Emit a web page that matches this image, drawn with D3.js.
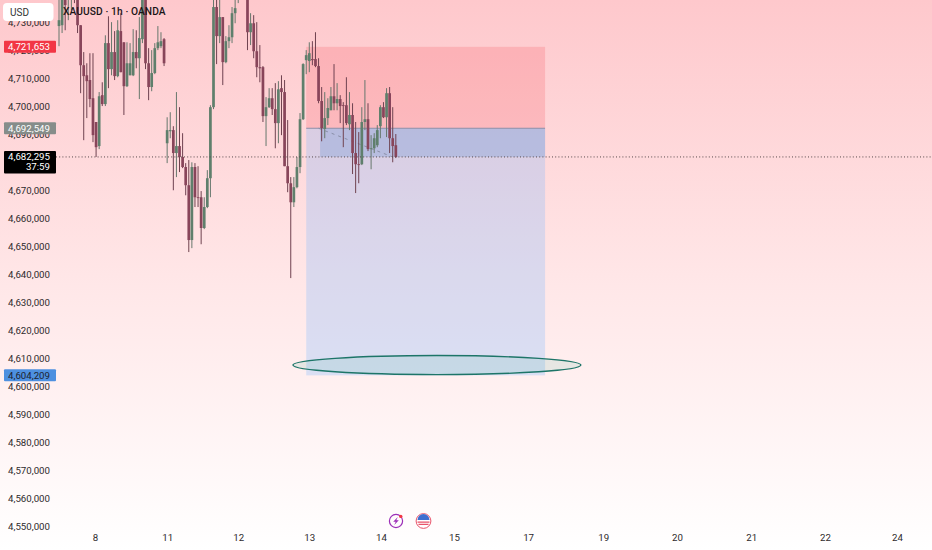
<!DOCTYPE html>
<html>
<head>
<meta charset="utf-8">
<script src="https://cdn.jsdelivr.net/npm/d3@7.9.0/dist/d3.min.js"></script>
<style>
  html, body { margin: 0; padding: 0; background: #fff; }
  svg { display: block; }
  text { font-family: Roboto, "Liberation Sans", sans-serif; }
</style>
</head>
<body>
<svg id="chart" width="932" height="550"></svg>
<script>
// hourly candles, prices in thousands (4710.0 shows as 4,710,000)
const opens = [4728.8,4729.1,4741.0,4738.8,4739.8,4741.6,4740.2,4729.1,4714.8,4711.2,4709.5,4703.0,4694.5,4685.9,4704.1,4700.9,4722.7,4713.4,4719.5,4710.9,4727.0,4723.0,4707.3,4711.2,4711.2,4719.5,4717.3,4724.1,4739.1,4715.5,4707.0,4712.0,4720.9,4721.6,4724.1,4686.9,4691.2,4691.6,4683.4,4685.9,4682.0,4678.4,4671.9,4652.3,4678.4,4667.6,4667.6,4656.6,4664.1,4674.4,4699.8,4735.6,4725.2,4732.0,4715.9,4723.4,4724.8,4733.4,4739.1,4743.4,4745.2,4739.8,4726.6,4729.8,4719.8,4714.1,4714.1,4696.6,4699.8,4703.0,4699.1,4694.1,4706.6,4705.2,4678.7,4672.6,4665.8,4671.2,4678.4,4695.5,4716.6,4716.3,4717.0,4717.0,4714.5,4702.0,4692.0,4695.9,4698.7,4703.7,4701.2,4702.7,4700.5,4700.5,4693.7,4697.0,4683.4,4679.4,4679.4,4694.5,4695.5,4684.8,4685.1,4686.2,4693.0,4699.8,4696.2,4704.8,4688.7,4686.2];
const highs = [4739.8,4741.6,4741.6,4741.6,4743.4,4743.4,4741.6,4729.1,4719.5,4715.5,4719.1,4719.1,4694.5,4705.2,4708.7,4725.5,4732.3,4730.2,4727.0,4730.9,4733.4,4723.0,4723.0,4722.7,4727.7,4727.3,4732.0,4739.8,4739.8,4720.9,4720.2,4722.7,4728.8,4726.6,4724.5,4696.2,4698.0,4693.0,4705.2,4699.8,4690.5,4679.8,4680.9,4680.1,4679.8,4678.7,4669.8,4667.6,4677.3,4700.5,4739.1,4739.8,4738.8,4732.0,4725.2,4729.1,4735.6,4739.8,4743.4,4752.4,4748.8,4741.6,4733.4,4732.7,4730.2,4722.0,4714.5,4703.4,4706.6,4706.6,4708.4,4709.1,4711.2,4709.5,4695.2,4674.8,4674.8,4682.0,4697.7,4715.5,4720.2,4723.0,4723.4,4726.6,4717.3,4707.0,4705.2,4703.0,4707.0,4715.2,4708.4,4704.1,4701.6,4710.5,4705.2,4701.2,4694.5,4690.9,4699.8,4709.5,4701.2,4689.8,4690.5,4693.4,4700.5,4701.6,4706.6,4707.0,4699.8,4690.2];
const lows = [4721.6,4726.3,4727.3,4730.9,4734.5,4737.0,4726.3,4704.8,4688.0,4695.9,4699.8,4687.3,4682.0,4684.8,4700.2,4700.2,4706.6,4711.2,4709.5,4710.5,4712.3,4697.0,4707.0,4711.2,4710.9,4713.7,4702.7,4722.7,4713.4,4702.3,4705.5,4711.6,4720.2,4720.9,4714.5,4679.8,4688.7,4670.1,4674.8,4676.6,4678.0,4668.3,4648.0,4649.4,4664.1,4664.1,4650.8,4656.2,4663.7,4667.6,4699.1,4715.2,4722.7,4707.7,4715.5,4720.9,4722.7,4729.8,4737.0,4741.0,4739.1,4720.2,4722.0,4717.3,4710.5,4708.7,4694.5,4685.9,4699.5,4697.0,4685.1,4686.9,4689.8,4678.7,4669.4,4638.7,4664.1,4670.8,4676.2,4695.2,4711.6,4712.3,4714.8,4714.1,4701.2,4687.6,4688.7,4693.4,4698.7,4698.7,4698.7,4694.1,4685.5,4693.4,4691.6,4675.9,4669.1,4672.6,4679.1,4691.6,4684.1,4677.6,4683.4,4685.5,4688.7,4695.9,4689.1,4683.4,4680.1,4681.6];
const closes = [4730.9,4739.8,4736.3,4741.0,4742.3,4739.5,4729.1,4714.8,4710.9,4709.1,4702.7,4689.8,4685.5,4703.7,4700.9,4722.7,4713.4,4719.5,4710.9,4727.3,4712.3,4707.3,4715.5,4715.5,4719.5,4717.3,4724.5,4739.1,4715.5,4707.0,4712.0,4720.9,4723.0,4723.4,4715.5,4691.6,4691.6,4683.4,4685.9,4682.0,4678.4,4671.9,4652.3,4678.4,4667.6,4667.3,4656.6,4664.1,4674.4,4699.8,4735.6,4725.2,4732.0,4715.9,4723.4,4724.8,4733.4,4735.2,4741.6,4748.8,4741.0,4726.6,4729.8,4719.8,4714.1,4713.7,4696.6,4699.8,4703.0,4699.1,4694.1,4706.2,4705.2,4678.7,4672.6,4665.8,4671.2,4678.4,4695.5,4715.2,4718.4,4719.1,4716.6,4714.5,4702.0,4692.3,4695.9,4699.5,4703.7,4701.2,4702.7,4700.2,4700.2,4694.1,4697.0,4683.4,4679.4,4679.1,4694.5,4695.5,4684.8,4685.1,4688.7,4691.6,4699.8,4696.2,4704.8,4688.7,4685.9,4682.0];

const priceTicks = [4730,4720,4710,4700,4690,4680,4670,4660,4650,4640,4630,4620,4610,4600,4590,4580,4570,4560,4550];
const dayLabels = ['8','11','12','13','14','15','17','19','20','21','22','24'];
const dayBars = [11.65,35,58,81,104.2,127.8,151.8,176.1,200,224,247.9,271.2];

const lastPrice = 4682.295;
const entryPrice = 4692.549;
const stopPrice = 4721.653;
const targetPrice = 4604.209;
const positionBars = [80, 157.3];
const openTradeBar = 84.5;
const ringBars = [75.7, 168.9];
const ringPrices = [4611.0, 4604.2];

const W = 932, H = 550;
const svg = d3.select('#chart');

const x = d3.scaleLinear().domain([0, 272]).range([59, 899.5]);
const y = d3.scaleLinear().domain([4550, 4730]).range([526.2, 22.7]);
// the drawn levels sit a little under the axis text centres
const yLevel = v => y(v) + 0.8;
const fmt = v => d3.format(',')(Math.round(v * 1000));

// page background
const grad = svg.append('defs').append('linearGradient')
  .attr('id', 'bg').attr('x1', 0).attr('x2', 0).attr('y1', 0).attr('y2', 1);
grad.append('stop').attr('offset', '0%').attr('stop-color', '#fec8cc');
grad.append('stop').attr('offset', '50%').attr('stop-color', '#ffe6e7');
grad.append('stop').attr('offset', '100%').attr('stop-color', '#ffffff');
svg.append('rect').attr('width', W).attr('height', H).attr('fill', 'url(#bg)');
svg.select('defs').append('filter').attr('id', 'soft')
  .append('feGaussianBlur').attr('stdDeviation', 0.4);

// long position box
const boxX = x(positionBars[0]), boxW = x(positionBars[1]) - x(positionBars[0]);
svg.append('rect')
  .attr('x', boxX).attr('width', boxW)
  .attr('y', yLevel(stopPrice)).attr('height', yLevel(entryPrice) - yLevel(stopPrice))
  .attr('fill', '#f23645').attr('fill-opacity', 0.18);
svg.append('rect')
  .attr('x', boxX).attr('width', boxW)
  .attr('y', yLevel(entryPrice)).attr('height', yLevel(targetPrice) - yLevel(entryPrice))
  .attr('fill', 'rgb(120,180,255)').attr('fill-opacity', 0.27);
// running profit band
svg.append('rect')
  .attr('x', x(openTradeBar)).attr('width', x(positionBars[1]) - x(openTradeBar))
  .attr('y', yLevel(entryPrice)).attr('height', yLevel(lastPrice) - yLevel(entryPrice))
  .attr('fill', 'rgb(100,146,211)').attr('fill-opacity', 0.29);
svg.append('line')
  .attr('x1', boxX).attr('x2', x(positionBars[1]))
  .attr('y1', yLevel(entryPrice)).attr('y2', yLevel(entryPrice))
  .attr('stroke', '#8d8fa8').attr('stroke-width', 1);

// dashed trade line
svg.append('line')
  .attr('x1', x(84)).attr('x2', x(108))
  .attr('y1', yLevel(entryPrice)).attr('y2', yLevel(lastPrice))
  .attr('stroke', '#8a8fa8').attr('stroke-dasharray', '3 4');

// candles
const candles = opens.map((o, i) => ({ i, o, h: highs[i], l: lows[i], c: closes[i] }));
const bodyColor = d => d.c >= d.o ? '#5f7f6c' : '#88445a';
const wickColor = d => d.c >= d.o ? '#66776c' : '#6f4250';
const cg = svg.append('g').attr('filter', 'url(#soft)');
cg.selectAll('line').data(candles).join('line')
  .attr('x1', d => x(d.i)).attr('x2', d => x(d.i))
  .attr('y1', d => y(d.h)).attr('y2', d => y(d.l))
  .attr('stroke', wickColor).attr('stroke-width', 1);
cg.selectAll('rect').data(candles).join('rect')
  .attr('x', d => x(d.i) - 1.35).attr('width', 2.7)
  .attr('y', d => y(Math.max(d.o, d.c)))
  .attr('height', d => Math.max(0.8, Math.abs(y(d.o) - y(d.c))))
  .attr('fill', bodyColor);

// last price dotted line
svg.append('line')
  .attr('x1', 56).attr('x2', W)
  .attr('y1', yLevel(lastPrice)).attr('y2', yLevel(lastPrice))
  .attr('stroke', '#55484a').attr('stroke-dasharray', '1 2.2');

// target ring
svg.append('ellipse')
  .attr('cx', (x(ringBars[0]) + x(ringBars[1])) / 2)
  .attr('cy', (y(ringPrices[0]) + y(ringPrices[1])) / 2)
  .attr('rx', (x(ringBars[1]) - x(ringBars[0])) / 2)
  .attr('ry', (y(ringPrices[1]) - y(ringPrices[0])) / 2)
  .attr('fill', '#4fb89a').attr('fill-opacity', 0.14)
  .attr('stroke', '#1d7568').attr('stroke-width', 1.4);

// price axis
const yAxis = d3.axisLeft(y).tickValues(priceTicks).tickSize(0).tickPadding(0).tickFormat(fmt);
svg.append('g').attr('transform', 'translate(50,0)').call(yAxis)
  .call(g => g.select('.domain').remove())
  .call(g => g.selectAll('text')
    .attr('fill', '#2e2a2c').attr('font-size', 9.7)
    .style('font-family', 'Roboto'));

// time axis
const xAxis = d3.axisBottom(x).tickValues(dayBars).tickSize(0).tickPadding(0)
  .tickFormat((d, i) => dayLabels[i]);
svg.append('g').attr('transform', 'translate(0,534)').call(xAxis)
  .call(g => g.select('.domain').remove())
  .call(g => g.selectAll('text')
    .attr('fill', '#2e2a2c').attr('font-size', 9.7)
    .style('font-family', 'Roboto'));

// price labels
const labels = [
  { v: stopPrice, fill: '#f23645', color: '#fff' },
  { v: entryPrice, fill: '#868d8a', color: '#fff' },
  { v: targetPrice, fill: '#4d90e0', color: '#1d2330' }
];
labels.forEach(l => {
  svg.append('rect').attr('x', 4).attr('width', 52).attr('y', yLevel(l.v) - 6).attr('height', 12)
    .attr('rx', 1).attr('fill', l.fill);
  svg.append('text').attr('x', 50).attr('y', yLevel(l.v) + 3.5).attr('text-anchor', 'end')
    .attr('fill', l.color).attr('font-size', 9.7).text(fmt(l.v));
});
svg.append('rect').attr('x', 4).attr('width', 52).attr('y', yLevel(lastPrice) - 6).attr('height', 22.5)
  .attr('rx', 1).attr('fill', '#000');
svg.append('text').attr('x', 50).attr('y', yLevel(lastPrice) + 3.5).attr('text-anchor', 'end')
  .attr('fill', '#fff').attr('font-size', 9.7).text(fmt(lastPrice));
svg.append('text').attr('x', 50).attr('y', yLevel(lastPrice) + 13.5).attr('text-anchor', 'end')
  .attr('fill', '#fff').attr('font-size', 9.7).text('37:59');

// currency button and title
svg.append('rect').attr('x', 3).attr('y', 3).attr('width', 50.5).attr('height', 18).attr('rx', 4).attr('fill', '#fff');
svg.append('text').attr('x', 10).attr('y', 16).attr('fill', '#333').attr('font-size', 10).text('USD');
svg.append('text').attr('x', 63).attr('y', 15).attr('fill', '#1a1416')
  .attr('font-size', 10.2).attr('font-weight', 500).attr('letter-spacing', 0.1)
  .text('XAUUSD · 1h · OANDA');

// event icons above the time axis
const bolt = svg.append('g').attr('transform', 'translate(396,521)');
bolt.append('circle').attr('r', 6.6).attr('fill', 'none').attr('stroke', '#9c2fb8').attr('stroke-width', 1.2);
bolt.append('path').attr('d', 'M1.8,-4 L-2.8,0.8 L-0.3,0.8 L-1.8,4 L2.8,-0.8 L0.3,-0.8 Z').attr('fill', '#9c2fb8');
bolt.append('circle').attr('cx', 4.8).attr('cy', -4.6).attr('r', 1.7).attr('fill', '#f23645');
const flag = svg.append('g').attr('transform', 'translate(423.5,521)');
flag.append('circle').attr('r', 7.4).attr('fill', '#fff').attr('stroke', '#e9536a').attr('stroke-width', 1);
flag.append('path').attr('d', 'M-6,-1 A6,6 0 0 1 6,-1 Z').attr('fill', '#3d6fd0');
flag.append('path').attr('d', 'M-6,1.2 H6 M-5,3.4 H5').attr('stroke', '#e9536a').attr('stroke-width', 1.2);
</script>
</body>
</html>
